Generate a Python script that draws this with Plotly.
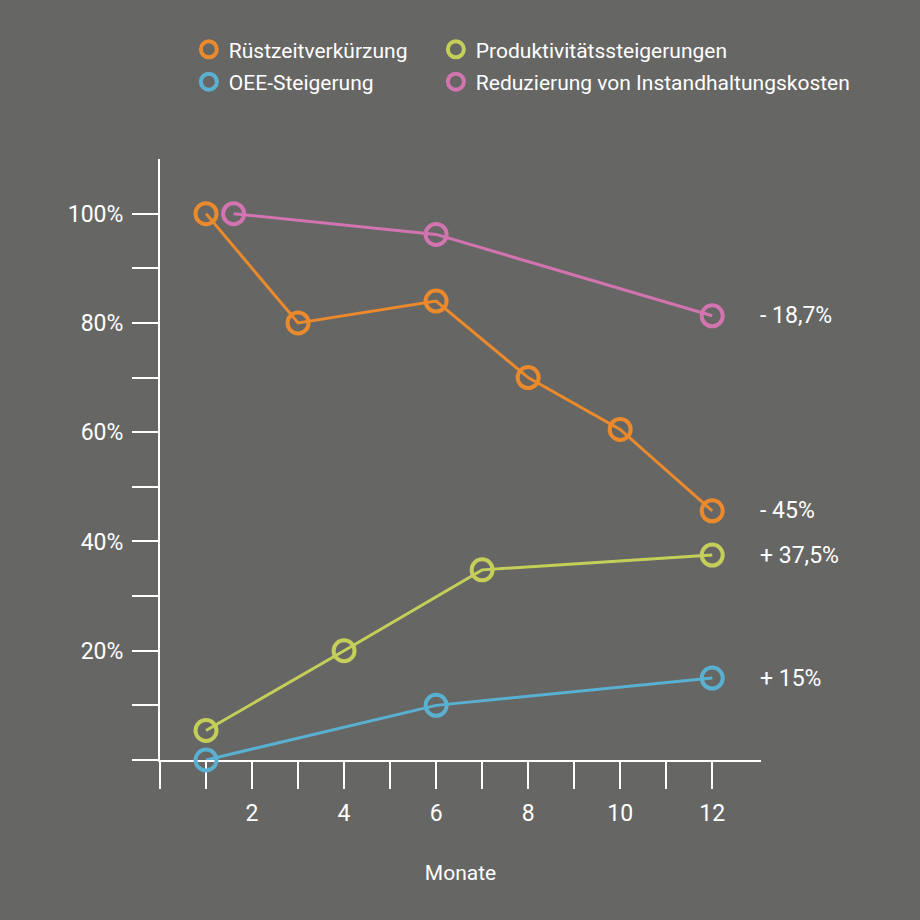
import plotly.graph_objects as go

# Monate / Werte je Kennzahl
monate_ruest = [1, 3, 6, 8, 10, 12]
ruest = [100, 80, 84, 70, 60.5, 45.6]

monate_prod = [1, 4, 7, 12]
prod = [5.4, 20, 34.8, 37.5]

monate_oee = [1, 6, 12]
oee = [0, 10, 15]

monate_inst = [1.6, 6, 12]
inst = [100, 96.2, 81.3]

namen = ['Rüstzeitverkürzung', 'Produktivitätssteigerungen',
         'OEE-Steigerung', 'Reduzierung von Instandhaltungskosten']
farben = ['#ea8a2c', '#c4cf5a', '#5ab0d0', '#d274b0']
endwerte = ['- 45%', '+ 37,5%', '+ 15%', '- 18,7%']
# linke Legendenspalte / rechte Legendenspalte
legenden = ['legend', 'legend2', 'legend', 'legend2']

x_ticks = list(range(0, 13))
x_labels = ['' if m % 2 or m == 0 else str(m) for m in x_ticks]
y_ticks = list(range(0, 101, 10))
y_labels = [f'{v}%' if v % 20 == 0 and v > 0 else '' for v in y_ticks]

bg = '#666664'
schrift = 'Roboto, sans-serif'

serien = [(monate_ruest, ruest), (monate_prod, prod),
          (monate_oee, oee), (monate_inst, inst)]

fig = go.Figure()
for (xs, ys), col in zip(serien, farben):
    fig.add_trace(go.Scatter(x=xs, y=ys, mode='lines', showlegend=False,
                             line=dict(color=col, width=3), cliponaxis=False,
                             hoverinfo='skip'))
for (xs, ys), name, col, leg in zip(serien, namen, farben, legenden):
    fig.add_trace(go.Scatter(x=xs, y=ys, mode='markers', name=name,
                             legend=leg, legendgroup=name,
                             marker=dict(symbol='circle-open', size=21, color=col,
                                         line=dict(width=4, color=col)),
                             cliponaxis=False))

for (xs, ys), txt in zip(serien, endwerte):
    fig.add_annotation(x=xs[-1], y=ys[-1], text=txt, showarrow=False,
                       xanchor='left', xshift=46, font=dict(size=23, color='white'))

leg_style = dict(orientation='v', yanchor='top', xanchor='left', y=1.216,
                 tracegroupgap=2, itemsizing='trace',
                 font=dict(size=21, color='white'), bgcolor='rgba(0,0,0,0)')

fig.update_layout(
    width=920, height=920,
    paper_bgcolor=bg, plot_bgcolor=bg,
    font=dict(family=schrift, size=23, color='white'),
    margin=dict(l=160, r=159, t=159, b=160),
    legend=dict(x=0.048, **leg_style),
    legend2=dict(x=0.459, **leg_style),
    xaxis=dict(range=[0, 13.06], tickvals=x_ticks, ticktext=x_labels,
               showline=True, linecolor='white', linewidth=2,
               ticks='outside', ticklen=27, tickwidth=2, tickcolor='white',
               ticklabelstandoff=4,
               showgrid=False, zeroline=False, layer='below traces',
               title=dict(text='Monate', standoff=40, font=dict(size=21))),
    yaxis=dict(range=[0, 110], tickvals=y_ticks, ticktext=y_labels,
               showline=True, linecolor='white', linewidth=2,
               ticks='outside', ticklen=26, tickwidth=2, tickcolor='white',
               ticklabelstandoff=4,
               showgrid=False, zeroline=False, layer='below traces'),
)

fig.write_html('out.html', config={'displayModeBar': False},
               post_script="document.body.style.margin='0';document.body.style.overflow='hidden';")
